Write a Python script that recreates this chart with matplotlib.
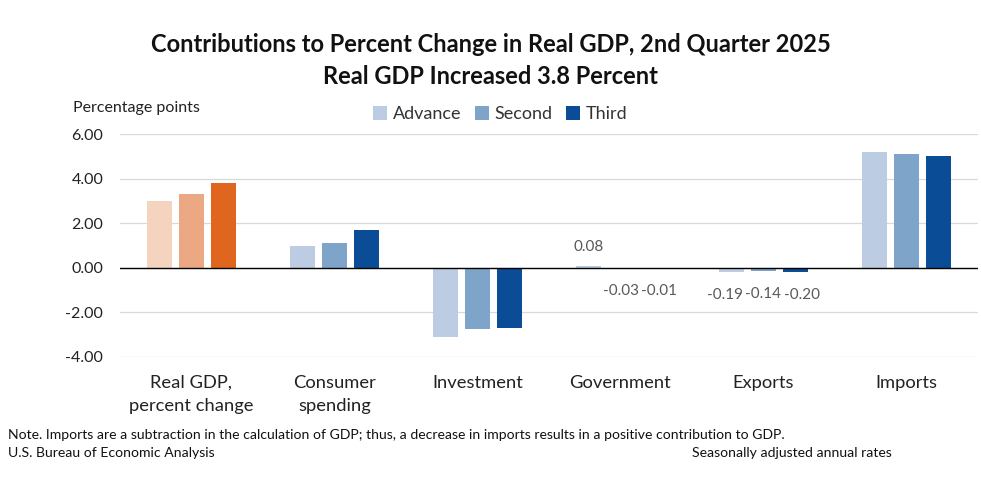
import numpy as np
import matplotlib
matplotlib.use("Agg")
import matplotlib.pyplot as plt
from matplotlib.patches import Patch

plt.rcParams['font.family'] = ['Lato', 'DejaVu Sans']

categories = ["Real GDP,\npercent change", "Consumer\nspending", "Investment",
              "Government", "Exports", "Imports"]
series = ["Advance", "Second", "Third"]
advance = [3.00, 0.98, -3.09, 0.08, -0.19, 5.18]
second = [3.30, 1.09, -2.74, -0.03, -0.14, 5.10]
third = [3.80, 1.68, -2.69, -0.01, -0.20, 5.03]
yticks = [-4, -2, 0, 2, 4, 6]
# categories whose small values are written next to the bars
labeled = [3, 4]

blues = ["#bccde3", "#7fa4c9", "#0b4c97"]
oranges = ["#f5d4bf", "#eba882", "#e0651f"]

fig = plt.figure(figsize=(9.81, 4.82), dpi=100)
ax = fig.add_axes([120 / 981, 1 - 357 / 482, 858 / 981, 223 / 482])

x = np.arange(len(categories))
w = 0.175
off = 0.224
for i, vals in enumerate([advance, second, third]):
    cols = [oranges[i] if j == 0 else blues[i] for j in range(len(categories))]
    pos = x + (i - 1) * off
    ax.bar(pos, vals, width=w, color=cols, zorder=3)
    for j in labeled:
        v = vals[j]
        lx = x[j] + (i - 1) * off * 1.2
        if v >= 0:
            ax.text(pos[j], v + 0.55, f"{v:.2f}", ha="center", va="bottom",
                    fontsize=11, color="#595959")
        else:
            ax.text(lx, v - 0.7, f"{v:.2f}", ha="center", va="top",
                    fontsize=11, color="#595959")

ax.set_xlim(-0.5, len(categories) - 0.5)
ax.set_ylim(-4, 6)
ax.set_yticks(yticks)
ax.set_yticklabels([f"{t:.2f}" for t in yticks], fontsize=11.5, color="#222222")
ax.set_xticks(x)
ax.set_xticklabels(categories, fontsize=13.2, color="#222222", linespacing=1.55, va="top")
ax.tick_params(axis="both", length=0, pad=13)
ax.tick_params(axis="y", pad=12)
ax.grid(axis="y", color="#d9d9d9", linewidth=0.9, zorder=0)
ax.axhline(0, color="#000000", linewidth=1.0, zorder=4)
for s in ax.spines.values():
    s.set_visible(False)

fig.text(0.5, 1 - 45 / 482, "Contributions to Percent Change in Real GDP, 2nd Quarter 2025",
         ha="center", va="center", fontsize=17, fontweight="bold", color="#111111")
fig.text(0.5, 1 - 77 / 482, "Real GDP Increased 3.8 Percent",
         ha="center", va="center", fontsize=17, fontweight="bold", color="#111111")
fig.text(73 / 981, 1 - 108 / 482, "Percentage points", ha="left", va="center",
         fontsize=11.5, color="#222222")

handles = [Patch(facecolor=c) for c in blues]
fig.legend(handles, series, loc="center", bbox_to_anchor=(500 / 981, 1 - 114 / 482),
           ncol=3, frameon=False, fontsize=13, handlelength=0.8, handleheight=0.8,
           handletextpad=0.3, columnspacing=0.75, labelcolor="#333333")

fig.text(8 / 981, 1 - 435 / 482,
         "Note. Imports are a subtraction in the calculation of GDP; thus, a decrease in imports "
         "results in a positive contribution to GDP.",
         ha="left", va="center", fontsize=10.1, color="#111111")
fig.text(8 / 981, 1 - 453 / 482, "U.S. Bureau of Economic Analysis",
         ha="left", va="center", fontsize=10.1, color="#111111")
fig.text(692 / 981, 1 - 453 / 482, "Seasonally adjusted annual rates",
         ha="left", va="center", fontsize=10.1, color="#111111")

fig.savefig("out.png", dpi=100, facecolor="white")
